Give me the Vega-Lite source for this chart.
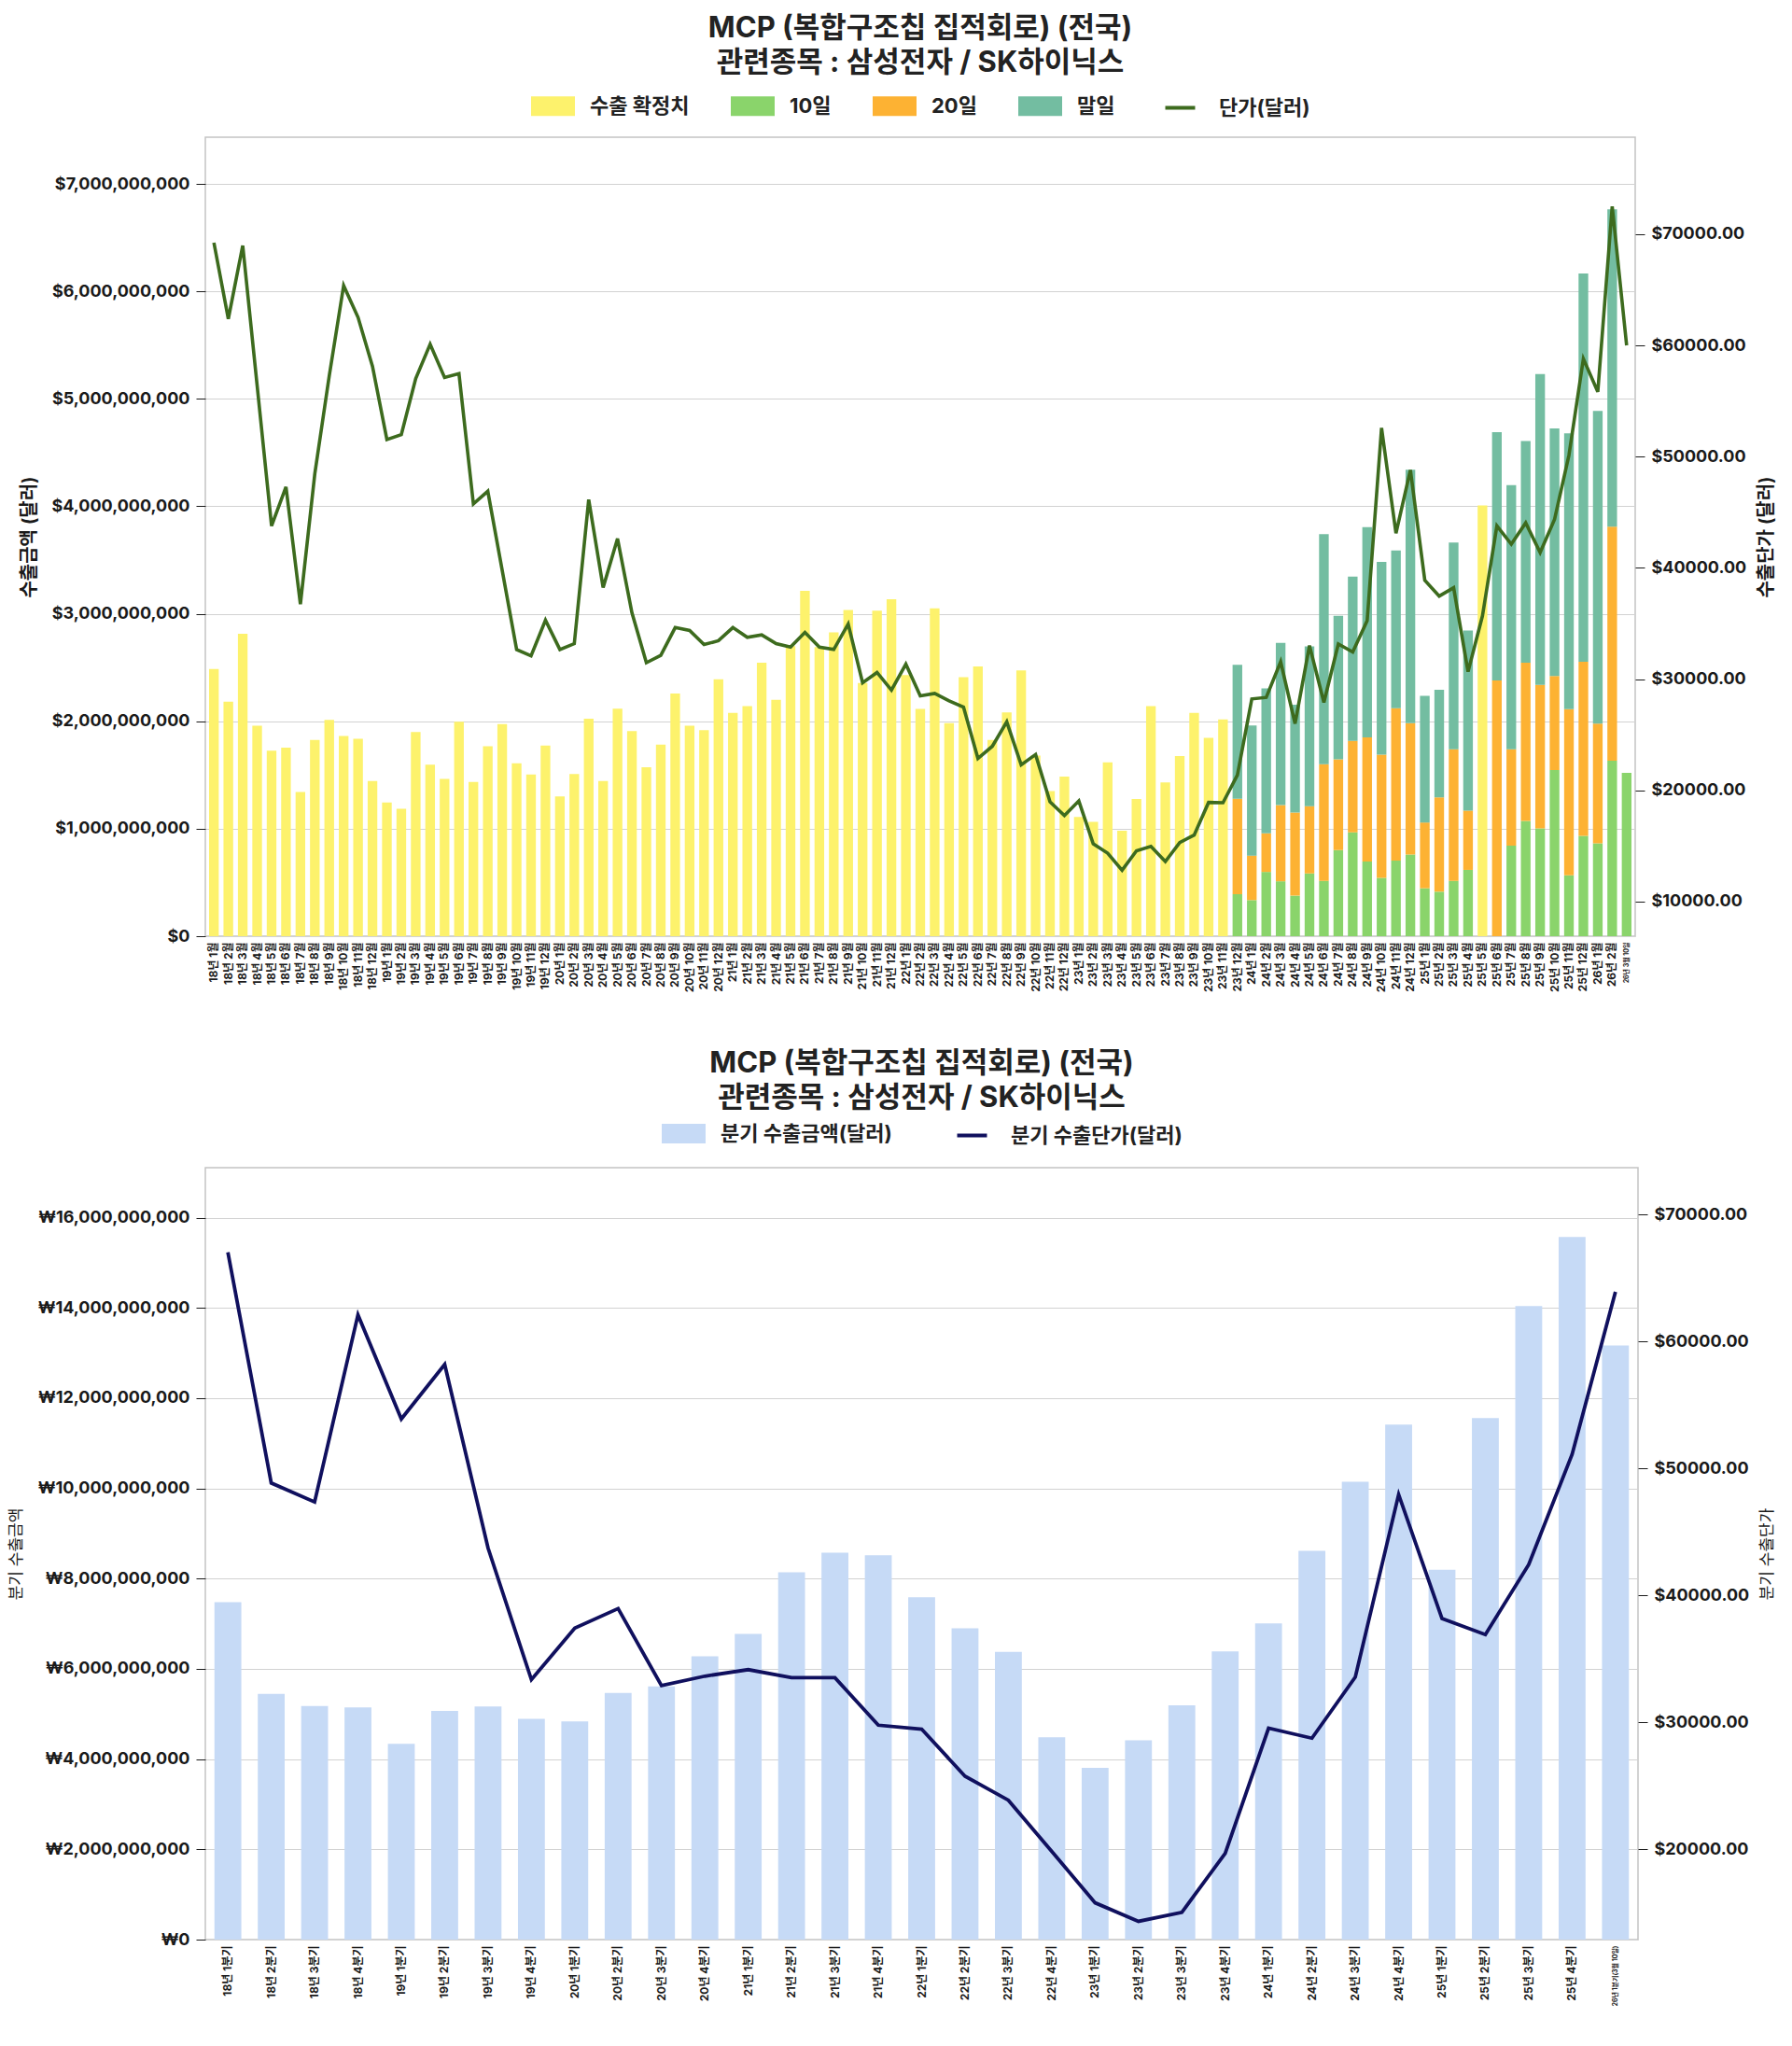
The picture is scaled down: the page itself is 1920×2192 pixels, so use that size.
{
  "$schema": "https://vega.github.io/schema/vega-lite/v6.json",
  "background": "white",
  "padding": {"left": 7, "top": 14, "right": 10, "bottom": 5},
  "columns": 1,
  "spacing": 59,
  "datasets": {
    "monthlyAmt": [
      {"m": "18년 1월", "series": "수출 확정치", "amount": 2486000000},
      {"m": "18년 2월", "series": "수출 확정치", "amount": 2182000000},
      {"m": "18년 3월", "series": "수출 확정치", "amount": 2814000000},
      {"m": "18년 4월", "series": "수출 확정치", "amount": 1959000000},
      {"m": "18년 5월", "series": "수출 확정치", "amount": 1727000000},
      {"m": "18년 6월", "series": "수출 확정치", "amount": 1755000000},
      {"m": "18년 7월", "series": "수출 확정치", "amount": 1341000000},
      {"m": "18년 8월", "series": "수출 확정치", "amount": 1827000000},
      {"m": "18년 9월", "series": "수출 확정치", "amount": 2014000000},
      {"m": "18년 10월", "series": "수출 확정치", "amount": 1864000000},
      {"m": "18년 11월", "series": "수출 확정치", "amount": 1836000000},
      {"m": "18년 12월", "series": "수출 확정치", "amount": 1445000000},
      {"m": "19년 1월", "series": "수출 확정치", "amount": 1245000000},
      {"m": "19년 2월", "series": "수출 확정치", "amount": 1186000000},
      {"m": "19년 3월", "series": "수출 확정치", "amount": 1900000000},
      {"m": "19년 4월", "series": "수출 확정치", "amount": 1595000000},
      {"m": "19년 5월", "series": "수출 확정치", "amount": 1464000000},
      {"m": "19년 6월", "series": "수출 확정치", "amount": 1995000000},
      {"m": "19년 7월", "series": "수출 확정치", "amount": 1436000000},
      {"m": "19년 8월", "series": "수출 확정치", "amount": 1768000000},
      {"m": "19년 9월", "series": "수출 확정치", "amount": 1973000000},
      {"m": "19년 10월", "series": "수출 확정치", "amount": 1609000000},
      {"m": "19년 11월", "series": "수출 확정치", "amount": 1505000000},
      {"m": "19년 12월", "series": "수출 확정치", "amount": 1773000000},
      {"m": "20년 1월", "series": "수출 확정치", "amount": 1300000000},
      {"m": "20년 2월", "series": "수출 확정치", "amount": 1509000000},
      {"m": "20년 3월", "series": "수출 확정치", "amount": 2023000000},
      {"m": "20년 4월", "series": "수출 확정치", "amount": 1445000000},
      {"m": "20년 5월", "series": "수출 확정치", "amount": 2118000000},
      {"m": "20년 6월", "series": "수출 확정치", "amount": 1909000000},
      {"m": "20년 7월", "series": "수출 확정치", "amount": 1573000000},
      {"m": "20년 8월", "series": "수출 확정치", "amount": 1782000000},
      {"m": "20년 9월", "series": "수출 확정치", "amount": 2259000000},
      {"m": "20년 10월", "series": "수출 확정치", "amount": 1959000000},
      {"m": "20년 11월", "series": "수출 확정치", "amount": 1918000000},
      {"m": "20년 12월", "series": "수출 확정치", "amount": 2391000000},
      {"m": "21년 1월", "series": "수출 확정치", "amount": 2077000000},
      {"m": "21년 2월", "series": "수출 확정치", "amount": 2141000000},
      {"m": "21년 3월", "series": "수출 확정치", "amount": 2545000000},
      {"m": "21년 4월", "series": "수출 확정치", "amount": 2200000000},
      {"m": "21년 5월", "series": "수출 확정치", "amount": 2700000000},
      {"m": "21년 6월", "series": "수출 확정치", "amount": 3214000000},
      {"m": "21년 7월", "series": "수출 확정치", "amount": 2690000000},
      {"m": "21년 8월", "series": "수출 확정치", "amount": 2827000000},
      {"m": "21년 9월", "series": "수출 확정치", "amount": 3035000000},
      {"m": "21년 10월", "series": "수출 확정치", "amount": 2355000000},
      {"m": "21년 11월", "series": "수출 확정치", "amount": 3030000000},
      {"m": "21년 12월", "series": "수출 확정치", "amount": 3135000000},
      {"m": "22년 1월", "series": "수출 확정치", "amount": 2430000000},
      {"m": "22년 2월", "series": "수출 확정치", "amount": 2115000000},
      {"m": "22년 3월", "series": "수출 확정치", "amount": 3050000000},
      {"m": "22년 4월", "series": "수출 확정치", "amount": 1982000000},
      {"m": "22년 5월", "series": "수출 확정치", "amount": 2410000000},
      {"m": "22년 6월", "series": "수출 확정치", "amount": 2510000000},
      {"m": "22년 7월", "series": "수출 확정치", "amount": 1827000000},
      {"m": "22년 8월", "series": "수출 확정치", "amount": 2082000000},
      {"m": "22년 9월", "series": "수출 확정치", "amount": 2473000000},
      {"m": "22년 10월", "series": "수출 확정치", "amount": 1680000000},
      {"m": "22년 11월", "series": "수출 확정치", "amount": 1350000000},
      {"m": "22년 12월", "series": "수출 확정치", "amount": 1486000000},
      {"m": "23년 1월", "series": "수출 확정치", "amount": 1109000000},
      {"m": "23년 2월", "series": "수출 확정치", "amount": 1064000000},
      {"m": "23년 3월", "series": "수출 확정치", "amount": 1618000000},
      {"m": "23년 4월", "series": "수출 확정치", "amount": 982000000},
      {"m": "23년 5월", "series": "수출 확정치", "amount": 1277000000},
      {"m": "23년 6월", "series": "수출 확정치", "amount": 2141000000},
      {"m": "23년 7월", "series": "수출 확정치", "amount": 1432000000},
      {"m": "23년 8월", "series": "수출 확정치", "amount": 1677000000},
      {"m": "23년 9월", "series": "수출 확정치", "amount": 2077000000},
      {"m": "23년 10월", "series": "수출 확정치", "amount": 1845000000},
      {"m": "23년 11월", "series": "수출 확정치", "amount": 2018000000},
      {"m": "23년 12월", "series": "10일", "amount": 391000000},
      {"m": "23년 12월", "series": "20일", "amount": 888000000},
      {"m": "23년 12월", "series": "말일", "amount": 1247000000},
      {"m": "24년 1월", "series": "10일", "amount": 336000000},
      {"m": "24년 1월", "series": "20일", "amount": 414000000},
      {"m": "24년 1월", "series": "말일", "amount": 1210000000},
      {"m": "24년 2월", "series": "10일", "amount": 598000000},
      {"m": "24년 2월", "series": "20일", "amount": 359000000},
      {"m": "24년 2월", "series": "말일", "amount": 1349000000},
      {"m": "24년 3월", "series": "10일", "amount": 511000000},
      {"m": "24년 3월", "series": "20일", "amount": 709000000},
      {"m": "24년 3월", "series": "말일", "amount": 1509000000},
      {"m": "24년 4월", "series": "10일", "amount": 377000000},
      {"m": "24년 4월", "series": "20일", "amount": 773000000},
      {"m": "24년 4월", "series": "말일", "amount": 1004000000},
      {"m": "24년 5월", "series": "10일", "amount": 584000000},
      {"m": "24년 5월", "series": "20일", "amount": 626000000},
      {"m": "24년 5월", "series": "말일", "amount": 1487000000},
      {"m": "24년 6월", "series": "10일", "amount": 515000000},
      {"m": "24년 6월", "series": "20일", "amount": 1086000000},
      {"m": "24년 6월", "series": "말일", "amount": 2140000000},
      {"m": "24년 7월", "series": "10일", "amount": 801000000},
      {"m": "24년 7월", "series": "20일", "amount": 846000000},
      {"m": "24년 7월", "series": "말일", "amount": 1335000000},
      {"m": "24년 8월", "series": "10일", "amount": 966000000},
      {"m": "24년 8월", "series": "20일", "amount": 852000000},
      {"m": "24년 8월", "series": "말일", "amount": 1528000000},
      {"m": "24년 9월", "series": "10일", "amount": 695000000},
      {"m": "24년 9월", "series": "20일", "amount": 1155000000},
      {"m": "24년 9월", "series": "말일", "amount": 1956000000},
      {"m": "24년 10월", "series": "10일", "amount": 543000000},
      {"m": "24년 10월", "series": "20일", "amount": 1146000000},
      {"m": "24년 10월", "series": "말일", "amount": 1795000000},
      {"m": "24년 11월", "series": "10일", "amount": 704000000},
      {"m": "24년 11월", "series": "20일", "amount": 1417000000},
      {"m": "24년 11월", "series": "말일", "amount": 1469000000},
      {"m": "24년 12월", "series": "10일", "amount": 759000000},
      {"m": "24년 12월", "series": "20일", "amount": 1224000000},
      {"m": "24년 12월", "series": "말일", "amount": 2357000000},
      {"m": "25년 1월", "series": "10일", "amount": 446000000},
      {"m": "25년 1월", "series": "20일", "amount": 612000000},
      {"m": "25년 1월", "series": "말일", "amount": 1179000000},
      {"m": "25년 2월", "series": "10일", "amount": 414000000},
      {"m": "25년 2월", "series": "20일", "amount": 879000000},
      {"m": "25년 2월", "series": "말일", "amount": 999000000},
      {"m": "25년 3월", "series": "10일", "amount": 515000000},
      {"m": "25년 3월", "series": "20일", "amount": 1225000000},
      {"m": "25년 3월", "series": "말일", "amount": 1923000000},
      {"m": "25년 4월", "series": "10일", "amount": 617000000},
      {"m": "25년 4월", "series": "20일", "amount": 552000000},
      {"m": "25년 4월", "series": "말일", "amount": 1675000000},
      {"m": "25년 5월", "series": "수출 확정치", "amount": 4008000000},
      {"m": "25년 6월", "series": "20일", "amount": 2379000000},
      {"m": "25년 6월", "series": "말일", "amount": 2311000000},
      {"m": "25년 7월", "series": "10일", "amount": 842000000},
      {"m": "25년 7월", "series": "20일", "amount": 898000000},
      {"m": "25년 7월", "series": "말일", "amount": 2457000000},
      {"m": "25년 8월", "series": "10일", "amount": 1072000000},
      {"m": "25년 8월", "series": "20일", "amount": 1473000000},
      {"m": "25년 8월", "series": "말일", "amount": 2062000000},
      {"m": "25년 9월", "series": "10일", "amount": 1003000000},
      {"m": "25년 9월", "series": "20일", "amount": 1335000000},
      {"m": "25년 9월", "series": "말일", "amount": 2894000000},
      {"m": "25년 10월", "series": "10일", "amount": 1546000000},
      {"m": "25년 10월", "series": "20일", "amount": 875000000},
      {"m": "25년 10월", "series": "말일", "amount": 2305000000},
      {"m": "25년 11월", "series": "10일", "amount": 566000000},
      {"m": "25년 11월", "series": "20일", "amount": 1546000000},
      {"m": "25년 11월", "series": "말일", "amount": 2568000000},
      {"m": "25년 12월", "series": "10일", "amount": 934000000},
      {"m": "25년 12월", "series": "20일", "amount": 1620000000},
      {"m": "25년 12월", "series": "말일", "amount": 3613000000},
      {"m": "26년 1월", "series": "10일", "amount": 865000000},
      {"m": "26년 1월", "series": "20일", "amount": 1114000000},
      {"m": "26년 1월", "series": "말일", "amount": 2908000000},
      {"m": "26년 2월", "series": "10일", "amount": 1634000000},
      {"m": "26년 2월", "series": "20일", "amount": 2176000000},
      {"m": "26년 2월", "series": "말일", "amount": 2955000000},
      {"m": "26년 3월 10일", "series": "10일", "amount": 1519000000}
    ],
    "monthlyPrice": [
      {"m": "18년 1월", "price": 69235}, {"m": "18년 2월", "price": 62385}, {"m": "18년 3월", "price": 68972},
      {"m": "18년 4월", "price": 56370}, {"m": "18년 5월", "price": 43767}, {"m": "18년 6월", "price": 47280},
      {"m": "18년 7월", "price": 36742}, {"m": "18년 8월", "price": 48466}, {"m": "18년 9월", "price": 57248},
      {"m": "18년 10월", "price": 65371}, {"m": "18년 11월", "price": 62517}, {"m": "18년 12월", "price": 58126},
      {"m": "19년 1월", "price": 51540}, {"m": "19년 2월", "price": 51979}, {"m": "19년 3월", "price": 57028},
      {"m": "19년 4월", "price": 60102}, {"m": "19년 5월", "price": 57116}, {"m": "19년 6월", "price": 57467},
      {"m": "19년 7월", "price": 45744}, {"m": "19년 8월", "price": 46885}, {"m": "19년 9월", "price": 39772},
      {"m": "19년 10월", "price": 32658}, {"m": "19년 11월", "price": 32087}, {"m": "19년 12월", "price": 35293},
      {"m": "20년 1월", "price": 32658}, {"m": "20년 2월", "price": 33185}, {"m": "20년 3월", "price": 46137},
      {"m": "20년 4월", "price": 38235}, {"m": "20년 5월", "price": 42626}, {"m": "20년 6월", "price": 35952},
      {"m": "20년 7월", "price": 31473}, {"m": "20년 8월", "price": 32131}, {"m": "20년 9월", "price": 34634},
      {"m": "20년 10월", "price": 34370}, {"m": "20년 11월", "price": 33100}, {"m": "20년 12월", "price": 33449},
      {"m": "21년 1월", "price": 34633}, {"m": "21년 2월", "price": 33756}, {"m": "21년 3월", "price": 33975},
      {"m": "21년 4월", "price": 33185}, {"m": "21년 5월", "price": 32878}, {"m": "21년 6월", "price": 34195},
      {"m": "21년 7월", "price": 32878}, {"m": "21년 8월", "price": 32658}, {"m": "21년 9월", "price": 34941},
      {"m": "21년 10월", "price": 29672}, {"m": "21년 11월", "price": 30594}, {"m": "21년 12월", "price": 29014},
      {"m": "22년 1월", "price": 31341}, {"m": "22년 2월", "price": 28487}, {"m": "22년 3월", "price": 28706},
      {"m": "22년 4월", "price": 28047}, {"m": "22년 5월", "price": 27476}, {"m": "22년 6월", "price": 22866},
      {"m": "22년 7월", "price": 23963}, {"m": "22년 8월", "price": 26159}, {"m": "22년 9월", "price": 22295},
      {"m": "22년 10월", "price": 23217}, {"m": "22년 11월", "price": 18957}, {"m": "22년 12월", "price": 17728},
      {"m": "23년 1월", "price": 19045}, {"m": "23년 2월", "price": 15181}, {"m": "23년 3월", "price": 14347},
      {"m": "23년 4월", "price": 12810}, {"m": "23년 5월", "price": 14567}, {"m": "23년 6월", "price": 14962},
      {"m": "23년 7월", "price": 13601}, {"m": "23년 8월", "price": 15312}, {"m": "23년 9월", "price": 15971},
      {"m": "23년 10월", "price": 18913}, {"m": "23년 11월", "price": 18883}, {"m": "23년 12월", "price": 21372},
      {"m": "24년 1월", "price": 28217}, {"m": "24년 2월", "price": 28351}, {"m": "24년 3월", "price": 31551},
      {"m": "24년 4월", "price": 25995}, {"m": "24년 5월", "price": 33018}, {"m": "24년 6월", "price": 27906},
      {"m": "24년 7월", "price": 33151}, {"m": "24년 8월", "price": 32440}, {"m": "24년 9월", "price": 35240},
      {"m": "24년 10월", "price": 52576}, {"m": "24년 11월", "price": 43108}, {"m": "24년 12월", "price": 48798},
      {"m": "25년 1월", "price": 38886}, {"m": "25년 2월", "price": 37463}, {"m": "25년 3월", "price": 38219},
      {"m": "25년 4월", "price": 30662}, {"m": "25년 5월", "price": 35685}, {"m": "25년 6월", "price": 43775},
      {"m": "25년 7월", "price": 42130}, {"m": "25년 8월", "price": 44042}, {"m": "25년 9월", "price": 41375},
      {"m": "25년 10월", "price": 44352}, {"m": "25년 11월", "price": 50132}, {"m": "25년 12월", "price": 58799},
      {"m": "26년 1월", "price": 55821}, {"m": "26년 2월", "price": 72490}, {"m": "26년 3월 10일", "price": 60000}
    ],
    "quarterly": [
      {"q": "18년 1분기", "amount": 7477000000, "price": 67043},
      {"q": "18년 2분기", "amount": 5447000000, "price": 48866},
      {"q": "18년 3분기", "amount": 5180000000, "price": 47367},
      {"q": "18년 4분기", "amount": 5147000000, "price": 62114},
      {"q": "19년 1분기", "amount": 4337000000, "price": 53913},
      {"q": "19년 2분기", "amount": 5069000000, "price": 58210},
      {"q": "19년 3분기", "amount": 5169000000, "price": 43740},
      {"q": "19년 4분기", "amount": 4892000000, "price": 33370},
      {"q": "20년 1분기", "amount": 4836000000, "price": 37431},
      {"q": "20년 2분기", "amount": 5469000000, "price": 38968},
      {"q": "20년 3분기", "amount": 5613000000, "price": 32897},
      {"q": "20년 4분기", "amount": 6279000000, "price": 33646},
      {"q": "21년 1분기", "amount": 6778000000, "price": 34159},
      {"q": "21년 2분기", "amount": 8142000000, "price": 33528},
      {"q": "21년 3분기", "amount": 8575000000, "price": 33528},
      {"q": "21년 4분기", "amount": 8519000000, "price": 29782},
      {"q": "22년 1분기", "amount": 7587000000, "price": 29467},
      {"q": "22년 2분기", "amount": 6900000000, "price": 25760},
      {"q": "22년 3분기", "amount": 6378000000, "price": 23867},
      {"q": "22년 4분기", "amount": 4482000000, "price": 19845},
      {"q": "23년 1분기", "amount": 3805000000, "price": 15784},
      {"q": "23년 2분기", "amount": 4415000000, "price": 14325},
      {"q": "23년 3분기", "amount": 5191000000, "price": 15035},
      {"q": "23년 4분기", "amount": 6389000000, "price": 19688},
      {"q": "24년 1분기", "amount": 7010000000, "price": 29545},
      {"q": "24년 2분기", "amount": 8619000000, "price": 28756},
      {"q": "24년 3분기", "amount": 10150000000, "price": 33567},
      {"q": "24년 4분기", "amount": 11414000000, "price": 47958},
      {"q": "25년 1분기", "amount": 8197000000, "price": 38179},
      {"q": "25년 2분기", "amount": 11558000000, "price": 36918},
      {"q": "25년 3분기", "amount": 14043000000, "price": 42438},
      {"q": "25년 4분기", "amount": 15574000000, "price": 51113},
      {"q": "26년 1분기(3월 10일)", "amount": 13167000000, "price": 63928}
    ]
  },
  "concat": [
    {
      "title": {
        "text": ["MCP (복합구조칩 집적회로) (전국)", "관련종목 : 삼성전자 / SK하이닉스"],
        "fontSize": 31,
        "fontWeight": "bold",
        "color": "#222222",
        "anchor": "middle",
        "lineHeight": 37,
        "offset": 6
      },
      "width": 1532,
      "height": 856,
      "layer": [
        {
          "data": {"name": "monthlyAmt"},
          "mark": {"type": "bar"},
          "encoding": {
            "x": {
              "field": "m",
              "type": "nominal",
              "sort": null,
              "scale": {"paddingInner": 0.33, "paddingOuter": 0.26},
              "axis": {
                "title": null,
                "labelAngle": -90,
                "labelFontSize": {"condition": {"test": "datum.value === '26년 3월 10일'", "value": 7}, "value": 12},
                "labelFontWeight": "bold",
                "labelPadding": 6,
                "ticks": false,
                "domain": false,
                "grid": false
              }
            },
            "y": {
              "field": "amount",
              "type": "quantitative",
              "stack": "zero",
              "scale": {"domain": [0, 7435000000], "nice": false},
              "axis": {
                "title": "수출금액 (달러)",
                "titleFontSize": 20,
                "titleFontWeight": "bold",
                "titlePadding": 14,
                "format": "$,.0f",
                "values": [0, 1000000000, 2000000000, 3000000000, 4000000000, 5000000000, 6000000000, 7000000000],
                "labelFontSize": 18,
                "labelFontWeight": "bold",
                "labelPadding": 7,
                "grid": true,
                "domain": false,
                "tickSize": 10
              }
            },
            "fill": {
              "field": "series",
              "type": "nominal",
              "scale": {
                "domain": ["수출 확정치", "10일", "20일", "말일"],
                "range": ["#fdf26c", "#8ad46b", "#fdb233", "#73bda1"]
              },
              "legend": {"title": null, "offset": 20}
            },
            "order": {"field": "series", "type": "nominal", "sort": "ascending"}
          }
        },
        {
          "data": {"name": "monthlyPrice"},
          "mark": {"type": "line", "strokeWidth": 3.6},
          "encoding": {
            "x": {"field": "m", "type": "nominal", "sort": null},
            "y": {
              "field": "price",
              "type": "quantitative",
              "scale": {"domain": [6885, 78716], "nice": false, "zero": false},
              "axis": {
                "orient": "right",
                "title": "수출단가 (달러)",
                "titleFontSize": 20,
                "titleFontWeight": "bold",
                "titlePadding": 12,
                "titleAngle": 270,
                "titleBaseline": "top",
                "format": "$.2f",
                "values": [10000, 20000, 30000, 40000, 50000, 60000, 70000],
                "labelFontSize": 18,
                "labelFontWeight": "bold",
                "labelPadding": 7,
                "grid": false,
                "domain": false,
                "tickSize": 10
              }
            },
            "stroke": {
              "datum": "단가(달러)",
              "type": "nominal",
              "scale": {"range": ["#3d6b1e"]},
              "legend": {"title": null, "symbolType": "M-0.68,0H0.68", "symbolSize": 2209, "symbolStrokeWidth": 4, "symbolFillColor": "transparent", "offset": 20}
            }
          }
        }
      ],
      "resolve": {"scale": {"y": "independent"}}
    },
    {
      "title": {
        "text": ["MCP (복합구조칩 집적회로) (전국)", "관련종목 : 삼성전자 / SK하이닉스"],
        "fontSize": 31,
        "fontWeight": "bold",
        "color": "#222222",
        "anchor": "middle",
        "lineHeight": 37,
        "offset": -10
      },
      "width": 1535,
      "height": 827,
      "data": {"name": "quarterly"},
      "layer": [
        {
          "mark": {"type": "bar"},
          "encoding": {
            "x": {
              "field": "q",
              "type": "nominal",
              "sort": null,
              "scale": {"paddingInner": 0.38, "paddingOuter": 0.21},
              "axis": {
                "title": null,
                "labelAngle": -90,
                "labelFontSize": {"condition": {"test": "datum.value === '26년 1분기(3월 10일)'", "value": 7}, "value": 12},
                "labelFontWeight": "bold",
                "labelPadding": 6,
                "ticks": false,
                "domain": false,
                "grid": false
              }
            },
            "y": {
              "field": "amount",
              "type": "quantitative",
              "scale": {"domain": [0, 17110000000], "nice": false},
              "axis": {
                "title": "분기 수출금액",
                "titleFontSize": 17,
                "titleFontWeight": "normal",
                "titlePadding": 14,
                "labelExpr": "'₩' + format(datum.value, ',.0f')",
                "values": [0, 2000000000, 4000000000, 6000000000, 8000000000, 10000000000, 12000000000, 14000000000, 16000000000],
                "labelFontSize": 18,
                "labelFontWeight": "bold",
                "labelPadding": 7,
                "grid": true,
                "domain": false,
                "tickSize": 10
              }
            },
            "fill": {
              "datum": "분기 수출금액(달러)",
              "type": "nominal",
              "scale": {"range": ["#c6daf6"]},
              "legend": {"title": null, "offset": 15, "padding": 8}
            }
          }
        },
        {
          "mark": {"type": "line", "strokeWidth": 3.8},
          "encoding": {
            "x": {"field": "q", "type": "nominal", "sort": null},
            "y": {
              "field": "price",
              "type": "quantitative",
              "scale": {"domain": [12887, 73711], "nice": false, "zero": false},
              "axis": {
                "orient": "right",
                "title": "분기 수출단가",
                "titleFontSize": 17,
                "titleFontWeight": "normal",
                "titlePadding": 12,
                "titleAngle": 270,
                "titleBaseline": "top",
                "format": "$.2f",
                "values": [20000, 30000, 40000, 50000, 60000, 70000],
                "labelFontSize": 18,
                "labelFontWeight": "bold",
                "labelPadding": 7,
                "grid": false,
                "domain": false,
                "tickSize": 10
              }
            },
            "stroke": {
              "datum": "분기 수출단가(달러)",
              "type": "nominal",
              "scale": {"range": ["#10105e"]},
              "legend": {"title": null, "symbolType": "M-0.68,0H0.68", "symbolSize": 2209, "symbolStrokeWidth": 4, "symbolFillColor": "transparent", "offset": 15, "padding": 8}
            }
          }
        }
      ],
      "resolve": {"scale": {"y": "independent"}}
    }
  ],
  "resolve": {
    "scale": {"x": "independent", "y": "independent", "fill": "independent", "stroke": "independent"},
    "legend": {"fill": "independent", "stroke": "independent"}
  },
  "config": {
    "font": "Inter, 'Noto Sans CJK KR', sans-serif",
    "view": {"stroke": "#c4c4c4", "strokeWidth": 1.5},
    "axis": {"labelColor": "#1a1a1a", "titleColor": "#1a1a1a", "tickColor": "#1a1a1a", "gridColor": "#d2d2d2", "gridWidth": 1.2},
    "legend": {
      "orient": "top",
      "direction": "horizontal",
      "symbolType": "M-1,-0.45H1V0.45H-1Z",
      "symbolSize": 2209,
      "symbolStrokeWidth": 0,
      "labelFontSize": 22,
      "labelFontWeight": "bold",
      "labelColor": "#222222",
      "labelOffset": 16,
      "labelLimit": 400,
      "columnPadding": 44,
      "layout": {"top": {"anchor": "middle", "direction": "horizontal", "margin": 44}}
    }
  }
}
